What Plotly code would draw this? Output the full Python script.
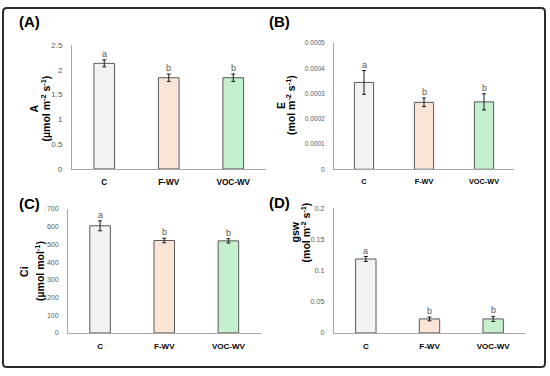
import plotly.graph_objects as go

W, H = 550, 376

categories = ["C", "F-WV", "VOC-WV"]
bar_colors = ["#f2f2f2", "#fbe5d6", "#c6efce"]

A_vals = [2.13, 1.84, 1.84]
A_err = [0.07, 0.075, 0.075]
A_letters = ["a", "b", "b"]

E_vals = [0.000344, 0.000265, 0.000267]
E_err = [0.000047, 0.000017, 0.000032]
E_letters = ["a", "b", "b"]

Ci_vals = [605, 522, 520]
Ci_err = [28, 13, 12]
Ci_letters = ["a", "b", "b"]

gsw_vals = [0.1183, 0.0224, 0.0224]
gsw_err = [0.004, 0.003, 0.004]
gsw_letters = ["a", "b", "b"]

A_ticks = [0, 0.5, 1, 1.5, 2, 2.5]
A_ticktext = ["0", "0.5", "1", "1.5", "2", "2.5"]
E_ticks = [0, 0.0001, 0.0002, 0.0003, 0.0004, 0.0005]
E_ticktext = ["0", "0.0001", "0.0002", "0.0003", "0.0004", "0.0005"]
Ci_ticks = [0, 100, 200, 300, 400, 500, 600, 700]
Ci_ticktext = ["0", "100", "200", "300", "400", "500", "600", "700"]
gsw_ticks = [0, 0.05, 0.1, 0.15, 0.2]
gsw_ticktext = ["0", "0.05", "0.1", "0.15", "0.2"]

panel_labels = ["(A)", "(B)", "(C)", "(D)"]
title_line1 = ["A", "E", "Ci", "gsw"]
title_line2 = ["(µmol m<sup>-2</sup> s<sup>-1</sup>)", "(mol m<sup>-2</sup> s<sup>-1</sup>)",
               "(µmol mol<sup>-1</sup>)", "(mol m<sup>-2</sup> s<sup>-1</sup>)"]

FONT = "Arial, Liberation Sans, sans-serif"

def px(x):
    return x / W

def py(y):
    return 1 - y / H

# pixel boxes: (x0, x1, ytop, ybottom)
boxes = [(72, 265.5, 42, 169), (334, 514, 40, 169.3), (68, 260.5, 210, 337), (334, 525, 209, 337)]
panels = [
    (A_vals, A_err, A_letters, A_ticks, A_ticktext, [0, 2.5]),
    (E_vals, E_err, E_letters, E_ticks, E_ticktext, [0, 0.0005]),
    (Ci_vals, Ci_err, Ci_letters, Ci_ticks, Ci_ticktext, [0, 700]),
    (gsw_vals, gsw_err, gsw_letters, gsw_ticks, gsw_ticktext, [0, 0.2]),
]
ytick_sizes = [8, 6.5, 7, 7.2]
xtick_sizes = [8.2, 7.3, 8, 8]
label_pos = [(17, 18), (267, 18), (17, 204), (267, 203)]
title_pos = [(34, 45, 107), (280.5, 290.5, 104), (24.5, 39.5, 274), (295, 305, 234)]

fig = go.Figure()
annotations = []
layout = {}
for i, (vals, err, letters, ticks, ticktext, yr) in enumerate(panels):
    n = "" if i == 0 else str(i + 1)
    xa, ya = "x" + n, "y" + n
    fig.add_trace(go.Bar(
        x=categories, y=vals, xaxis=xa, yaxis=ya, width=0.32,
        marker=dict(color=bar_colors, line=dict(color="#595959", width=1)),
        error_y=dict(type="data", array=err, color="#1a1a1a", thickness=1, width=2),
        showlegend=False, hoverinfo="skip",
    ))
    x0, x1, yt, yb = boxes[i]
    layout["xaxis" + n] = dict(
        domain=[px(x0), px(x1)], anchor=ya, type="category", range=[-0.5, 2.5],
        showline=True, linecolor="#a6a6a6", linewidth=1, ticks="", showgrid=False,
        tickvals=categories, ticktext=["<b>" + c + "</b>" for c in categories],
        ticklabelstandoff=5,
        tickfont=dict(size=xtick_sizes[i], color="#000000", family=FONT), fixedrange=True,
    )
    layout["yaxis" + n] = dict(
        domain=[py(yb), py(yt)], anchor=xa, range=yr, showline=True,
        linecolor="#a6a6a6", linewidth=1, ticks="", showgrid=False, zeroline=False,
        tickvals=ticks, ticktext=ticktext, ticklabelstandoff=7,
        tickfont=dict(size=ytick_sizes[i], color="#595959", family=FONT), fixedrange=True,
    )
    for c, v, e, l in zip(categories, vals, err, letters):
        annotations.append(dict(x=c, y=v + e, xref=xa, yref=ya, text=l, showarrow=False,
                                yanchor="bottom", font=dict(size=9, color="#595959", family=FONT),
                                yshift=-1))
    lx, ly = label_pos[i]
    annotations.append(dict(x=px(lx), y=py(ly), xref="paper", yref="paper", text="<b>" + panel_labels[i] + "</b>",
                            showarrow=False, xanchor="left", yanchor="middle",
                            font=dict(size=15, color="#000000", family=FONT)))
    t1x, t2x, ty = title_pos[i]
    annotations.append(dict(x=px(t1x), y=py(ty), xref="paper", yref="paper", text="<b>" + title_line1[i] + "</b>",
                            showarrow=False, textangle=-90, xanchor="center", yanchor="middle",
                            font=dict(size=10.5, color="#000000", family=FONT)))
    annotations.append(dict(x=px(t2x), y=py(ty), xref="paper", yref="paper", text="<b>" + title_line2[i] + "</b>",
                            showarrow=False, textangle=-90, xanchor="center", yanchor="middle",
                            font=dict(size=10.5, color="#000000", family=FONT)))

bx0, bx1, by0, by1 = 3, 545, 4, 372
r = 4
path = (f"M {px(bx0 + r)},{py(by0)} L {px(bx1 - r)},{py(by0)} Q {px(bx1)},{py(by0)} {px(bx1)},{py(by0 + r)} "
        f"L {px(bx1)},{py(by1 - r)} Q {px(bx1)},{py(by1)} {px(bx1 - r)},{py(by1)} "
        f"L {px(bx0 + r)},{py(by1)} Q {px(bx0)},{py(by1)} {px(bx0)},{py(by1 - r)} "
        f"L {px(bx0)},{py(by0 + r)} Q {px(bx0)},{py(by0)} {px(bx0 + r)},{py(by0)} Z")

fig.update_layout(
    width=W, height=H, margin=dict(l=0, r=0, t=0, b=0),
    paper_bgcolor="white", plot_bgcolor="white",
    font=dict(family=FONT),
    annotations=annotations,
    shapes=[dict(type="path", path=path, xref="paper", yref="paper",
                 line=dict(color="#2b2b2b", width=2))],
    **layout,
)
fig.write_html("out.html", config={"displayModeBar": False},
               post_script="document.body.style.margin='0px';document.body.style.overflow='hidden';")
